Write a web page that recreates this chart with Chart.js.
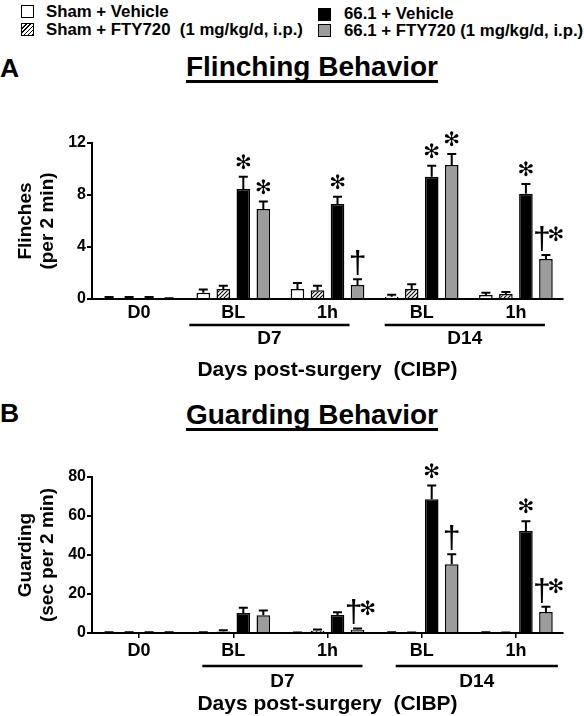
<!DOCTYPE html>
<html>
<head>
<meta charset="utf-8">
<script src="https://cdn.jsdelivr.net/npm/chart.js@4.4.1/dist/chart.umd.min.js"></script>
<style>
  html, body { margin: 0; padding: 0; background: #fff; }
  #page { position: relative; width: 584px; height: 716px; overflow: hidden;
          font-family: "Liberation Sans", Arial, sans-serif; font-weight: bold; color: #000; }
  .abs { position: absolute; white-space: pre; }
  .lg { font-size: 16.8px; line-height: 18px; }
  .box { position: absolute; width: 11px; height: 11px; border: 1.5px solid #000; }
  .letter { font-size: 26.5px; line-height: 30px; }
  .title { left: 0; width: 624px; text-align: center; font-size: 28px; line-height: 32px;
           text-decoration: underline; text-decoration-thickness: 2.5px; text-underline-offset: 3.5px;
           text-decoration-skip-ink: none; }
  canvas { position: absolute; left: 0; }
</style>
</head>
<body>
<div id="page">
  <!-- legend -->
  <div class="box" style="left:21px; top:5px; background:#fff;"></div>
  <div class="abs lg" style="left:46px; top:3px;">Sham + Vehicle</div>
  <div class="box" style="left:21px; top:23px; background:repeating-linear-gradient(-45deg, #000 0 1px, #fff 1px 3px);"></div>
  <div class="abs lg" style="left:46px; top:21px;">Sham + FTY720  (1 mg/kg/d, i.p.)</div>
  <div class="box" style="left:318px; top:8px; background:#000;"></div>
  <div class="abs lg" style="left:344px; top:5px;">66.1 + Vehicle</div>
  <div class="box" style="left:318px; top:24px; background:#9c9c9c;"></div>
  <div class="abs lg" style="left:344px; top:22px;">66.1 + FTY720 (1 mg/kg/d, i.p.)</div>

  <div class="abs letter" style="left:0; top:53px;">A</div>
  <div class="abs title" style="top:51px;">Flinching Behavior</div>
  <canvas id="chartA" width="584" height="280" style="top:110px;"></canvas>

  <div class="abs letter" style="left:0; top:398px;">B</div>
  <div class="abs title" style="top:399px;">Guarding Behavior</div>
  <canvas id="chartB" width="584" height="276" style="top:440px;"></canvas>
</div>

<script>
// ---- data ----
const categories = ['D0', 'BL', '1h', 'BL', '1h'];
const groupLabels = ['D7', 'D14'];
const groupSpans = [[1, 2], [3, 4]];
const seriesNames = ['Sham + Vehicle', 'Sham + FTY720 (1 mg/kg/d, i.p.)', '66.1 + Vehicle', '66.1 + FTY720 (1 mg/kg/d, i.p.)'];

const flinchTicks = [0, 4, 8, 12];
const flinchShamVeh = [0.08, 0.48, 0.77, 0.18, 0.31];
const flinchShamFty = [0.08, 0.76, 0.67, 0.77, 0.38];
const flinchCibpVeh = [0.08, 8.46, 7.3, 9.4, 8.1];
const flinchCibpFty = [0.03, 6.93, 1.08, 10.3, 3.08];
const flinchShamVehErr = [0.07, 0.26, 0.46, 0.15, 0.17];
const flinchShamFtyErr = [0.07, 0.26, 0.35, 0.36, 0.16];
const flinchCibpVehErr = [0.07, 0.94, 0.57, 0.85, 0.75];
const flinchCibpFtyErr = [0.02, 0.57, 0.44, 0.85, 0.3];
const flinchMarks = [
    ['', '', '', '', ''],
    ['', '', '', '', ''],
    ['', '*', '*', '*', '*'],
    ['', '*', '†', '*', '†*']
];

const guardTicks = [0, 20, 40, 60, 80];
const guardShamVeh = [0.3, 0.3, 0.2, 0.3, 0.3];
const guardShamFty = [0.3, 0.8, 1.2, 0.2, 0.2];
const guardCibpVeh = [0.3, 10.3, 9.2, 68.6, 52.3];
const guardCibpFty = [0.3, 9.1, 1.7, 35.2, 10.8];
const guardShamVehErr = [0.1, 0.1, 0.1, 0.1, 0.1];
const guardShamFtyErr = [0.1, 0.6, 0.6, 0.1, 0.1];
const guardCibpVehErr = [0.1, 2.6, 1.4, 7.1, 5.0];
const guardCibpFtyErr = [0.1, 2.5, 0.6, 5.2, 2.7];
const guardMarks = [
    ['', '', '', '', ''],
    ['', '', '', '', ''],
    ['', '', '', '*', '*'],
    ['', '', '†*', '†', '†*']
];

// ---- styles ----
const FONT = '"Liberation Sans", Arial, sans-serif';
Chart.defaults.font.family = FONT;
Chart.defaults.font.weight = 'bold';
Chart.defaults.color = '#000';

const hatch = (function () {
    const c = document.createElement('canvas');
    c.width = 4; c.height = 4;
    const g = c.getContext('2d');
    g.fillStyle = '#fff';
    g.fillRect(0, 0, 4, 4);
    g.strokeStyle = '#000';
    g.lineWidth = 1.1;
    g.beginPath();
    g.moveTo(-1, 5); g.lineTo(5, -1);
    g.moveTo(-1, 1); g.lineTo(1, -1);
    g.moveTo(3, 5); g.lineTo(5, 3);
    g.stroke();
    return g.createPattern(c, 'repeat');
})();

const fills = ['#fff', hatch, '#000', '#9c9c9c'];

function drawStar(ctx, x, y) {
    ctx.font = '20px "DejaVu Sans"';
    ctx.fillText('✻', x, y);
}

function drawDagger(ctx, x, y) {
    ctx.font = '32px ' + FONT;
    ctx.fillText('†', x, y);
}

// error bars, significance marks, D7 / D14 brackets
const extrasPlugin = {
    id: 'extras',
    afterDatasetsDraw(chart, args, opts) {
        const ctx = chart.ctx;
        const ys = chart.scales.y;
        ctx.save();
        chart.data.datasets.forEach(function (ds, i) {
            const meta = chart.getDatasetMeta(i);
            meta.data.forEach(function (bar, j) {
                const top = ys.getPixelForValue(ds.data[j] + opts.errors[i][j]);
                ctx.strokeStyle = '#000';
                ctx.lineWidth = 2;
                ctx.beginPath();
                ctx.moveTo(bar.x, bar.y);
                ctx.lineTo(bar.x, top);
                ctx.moveTo(bar.x - 4.5, top);
                ctx.lineTo(bar.x + 4.5, top);
                ctx.stroke();

                const m = opts.marks[i][j];
                ctx.fillStyle = '#000';
                ctx.textAlign = 'center';
                ctx.textBaseline = 'middle';
                if (m === '*') {
                    drawStar(ctx, bar.x, top - 13);
                } else if (m === '†') {
                    drawDagger(ctx, bar.x, top - 15);
                } else if (m === '†*') {
                    drawDagger(ctx, bar.x - 4, top - 15);
                    drawStar(ctx, bar.x + 10, top - 19);
                }
            });
        });
        ctx.restore();
    },
    afterDraw(chart, args, opts) {
        const ctx = chart.ctx;
        const xs = chart.scales.x;
        const base = chart.chartArea.bottom;
        ctx.save();
        ctx.strokeStyle = '#000';
        ctx.lineWidth = 2.5;
        ctx.fillStyle = '#000';
        ctx.font = 'bold 19px ' + FONT;
        ctx.textAlign = 'center';
        ctx.textBaseline = 'middle';
        groupSpans.forEach(function (span, k) {
            const x0 = xs.getPixelForValue(span[0]) + opts.bracketPad[k][0];
            const x1 = xs.getPixelForValue(span[1]) + opts.bracketPad[k][1];
            ctx.beginPath();
            ctx.moveTo(x0, base + opts.bracketY);
            ctx.lineTo(x1, base + opts.bracketY);
            ctx.stroke();
            ctx.fillText(groupLabels[k], (x0 + x1) / 2, base + opts.groupLabelY);
        });
        ctx.restore();
    }
};

function makeChart(id, cfg) {
    return new Chart(document.getElementById(id), {
        type: 'bar',
        data: {
            labels: categories,
            datasets: cfg.values.map(function (v, i) {
                return {
                    label: seriesNames[i],
                    data: v,
                    backgroundColor: fills[i],
                    borderColor: '#000',
                    borderWidth: 1.5,
                    categoryPercentage: 0.85,
                    barPercentage: 0.68
                };
            })
        },
        options: {
            responsive: false,
            animation: false,
            devicePixelRatio: 1,
            layout: { padding: { top: cfg.padTop, right: 21, bottom: 0, left: 0 } },
            plugins: {
                legend: { display: false },
                tooltip: { enabled: false },
                extras: {
                    errors: cfg.errors,
                    marks: cfg.marks,
                    bracketPad: cfg.bracketPad,
                    bracketY: cfg.bracketY,
                    groupLabelY: cfg.groupLabelY
                }
            },
            scales: {
                x: {
                    offset: true,
                    grid: {
                        display: cfg.xTicks,
                        drawOnChartArea: false,
                        offset: false,
                        color: '#000',
                        lineWidth: 1.5,
                        tickLength: 5
                    },
                    border: { display: true, color: '#000', width: 2 },
                    ticks: { font: { size: 18, weight: 'bold' }, padding: cfg.xTickPad, maxRotation: 0 },
                    title: {
                        display: true,
                        text: 'Days post-surgery  (CIBP)',
                        font: { size: 21, weight: 'bold', lineHeight: 1.1 },
                        padding: { top: 0, bottom: cfg.xTitlePad }
                    },
                    afterFit: function (s) { s.height = cfg.xHeight; }
                },
                y: {
                    min: 0,
                    max: cfg.ticks[cfg.ticks.length - 1],
                    afterBuildTicks: function (s) {
                        s.ticks = cfg.ticks.map(function (v) { return { value: v }; });
                    },
                    grid: { display: true, drawOnChartArea: false, color: '#000', lineWidth: 2, tickLength: 5 },
                    border: { display: true, color: '#000', width: 2 },
                    ticks: { font: { size: 16, weight: 'bold' }, padding: 1 },
                    title: {
                        display: true,
                        text: cfg.yTitle,
                        font: { size: 19, weight: 'bold', lineHeight: 1.16 },
                        padding: { top: 15, bottom: 0 }
                    },
                    afterFit: function (s) { s.width = 92; }
                }
            }
        },
        plugins: [extrasPlugin]
    });
}

makeChart('chartA', {
    values: [flinchShamVeh, flinchShamFty, flinchCibpVeh, flinchCibpFty],
    errors: [flinchShamVehErr, flinchShamFtyErr, flinchCibpVehErr, flinchCibpFtyErr],
    marks: flinchMarks,
    ticks: flinchTicks,
    yTitle: ['Flinches', '(per 2 min)'],
    padTop: 33,
    xHeight: 91,
    xTicks: false,
    xTickPad: -2,
    xTitlePad: 8,
    bracketPad: [[-44, 22], [-37, 29]],
    bracketY: 26,
    groupLabelY: 40
});

makeChart('chartB', {
    values: [guardShamVeh, guardShamFty, guardCibpVeh, guardCibpFty],
    errors: [guardShamVehErr, guardShamFtyErr, guardCibpVehErr, guardCibpFtyErr],
    marks: guardMarks,
    ticks: guardTicks,
    yTitle: ['Guarding', '(sec per 2 min)'],
    padTop: 37,
    xHeight: 83,
    xTicks: true,
    xTickPad: 2,
    xTitlePad: 0,
    bracketPad: [[-31, 35], [-26, 42]],
    bracketY: 33,
    groupLabelY: 49
});
</script>
</body>
</html>
